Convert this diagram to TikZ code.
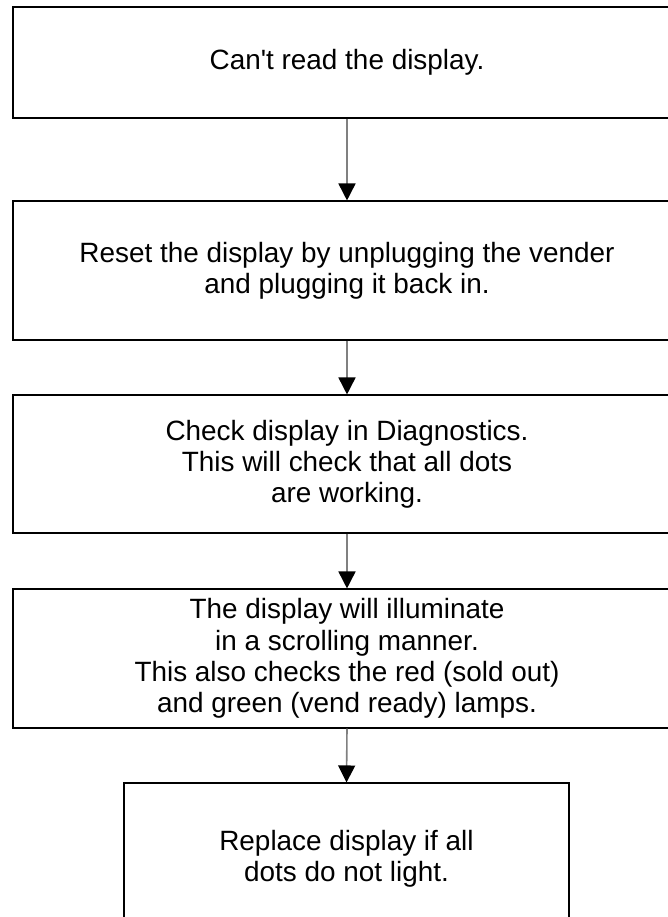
\documentclass[tikz,border=0pt]{standalone}
\usepackage{fontspec}
\setmainfont{Liberation Sans}
\usetikzlibrary{arrows.meta}

\tikzset{
  stepbox/.style={draw=black, line width=0.55pt, inner sep=0pt, align=center,
    font=\fontsize{13.95pt}{15.6pt}\selectfont},
  flowarrow/.style={draw=black!50, line width=0.8pt,
    -{Triangle[color=black, length=8.5pt, width=8.5pt]}}
}

\begin{document}
\begin{tikzpicture}[x=0.5pt, y=-0.5pt]
  %%%%% START %%%%%
  \useasboundingbox (0,0) rectangle (668,917);
  \clip (0,0) rectangle (668,917);

  \node[stepbox, minimum width=334pt, minimum height=55.5pt] (cant) at (347, 62.5)
    {Can\textquotesingle t read the display.};
  \node[stepbox, minimum width=334pt, minimum height=69.5pt] (reset) at (347, 270.5)
    {Reset the display by unplugging the vender\\and plugging it back in.};
  \node[stepbox, minimum width=334pt, minimum height=69pt] (diag) at (347, 464)
    {Check display in Diagnostics.\\This will check that all dots\\are working.};
  \node[stepbox, minimum width=334pt, minimum height=69.5pt] (scroll) at (347, 658.5)
    {The display will illuminate\\in a scrolling manner.\\This also checks the red (sold out)\\and green (vend ready) lamps.};
  \node[stepbox, minimum width=222.5pt, minimum height=76pt] (replace) at (346.5, 859)
    {Replace display if all\\dots do not light.};

  \draw[flowarrow] (cant.south) -- (reset.north);
  \draw[flowarrow] (reset.south) -- (diag.north);
  \draw[flowarrow] (diag.south) -- (scroll.north);
  \draw[flowarrow] (scroll.south) -- (replace.north);
  %%%%% END %%%%%
\end{tikzpicture}
\end{document}
